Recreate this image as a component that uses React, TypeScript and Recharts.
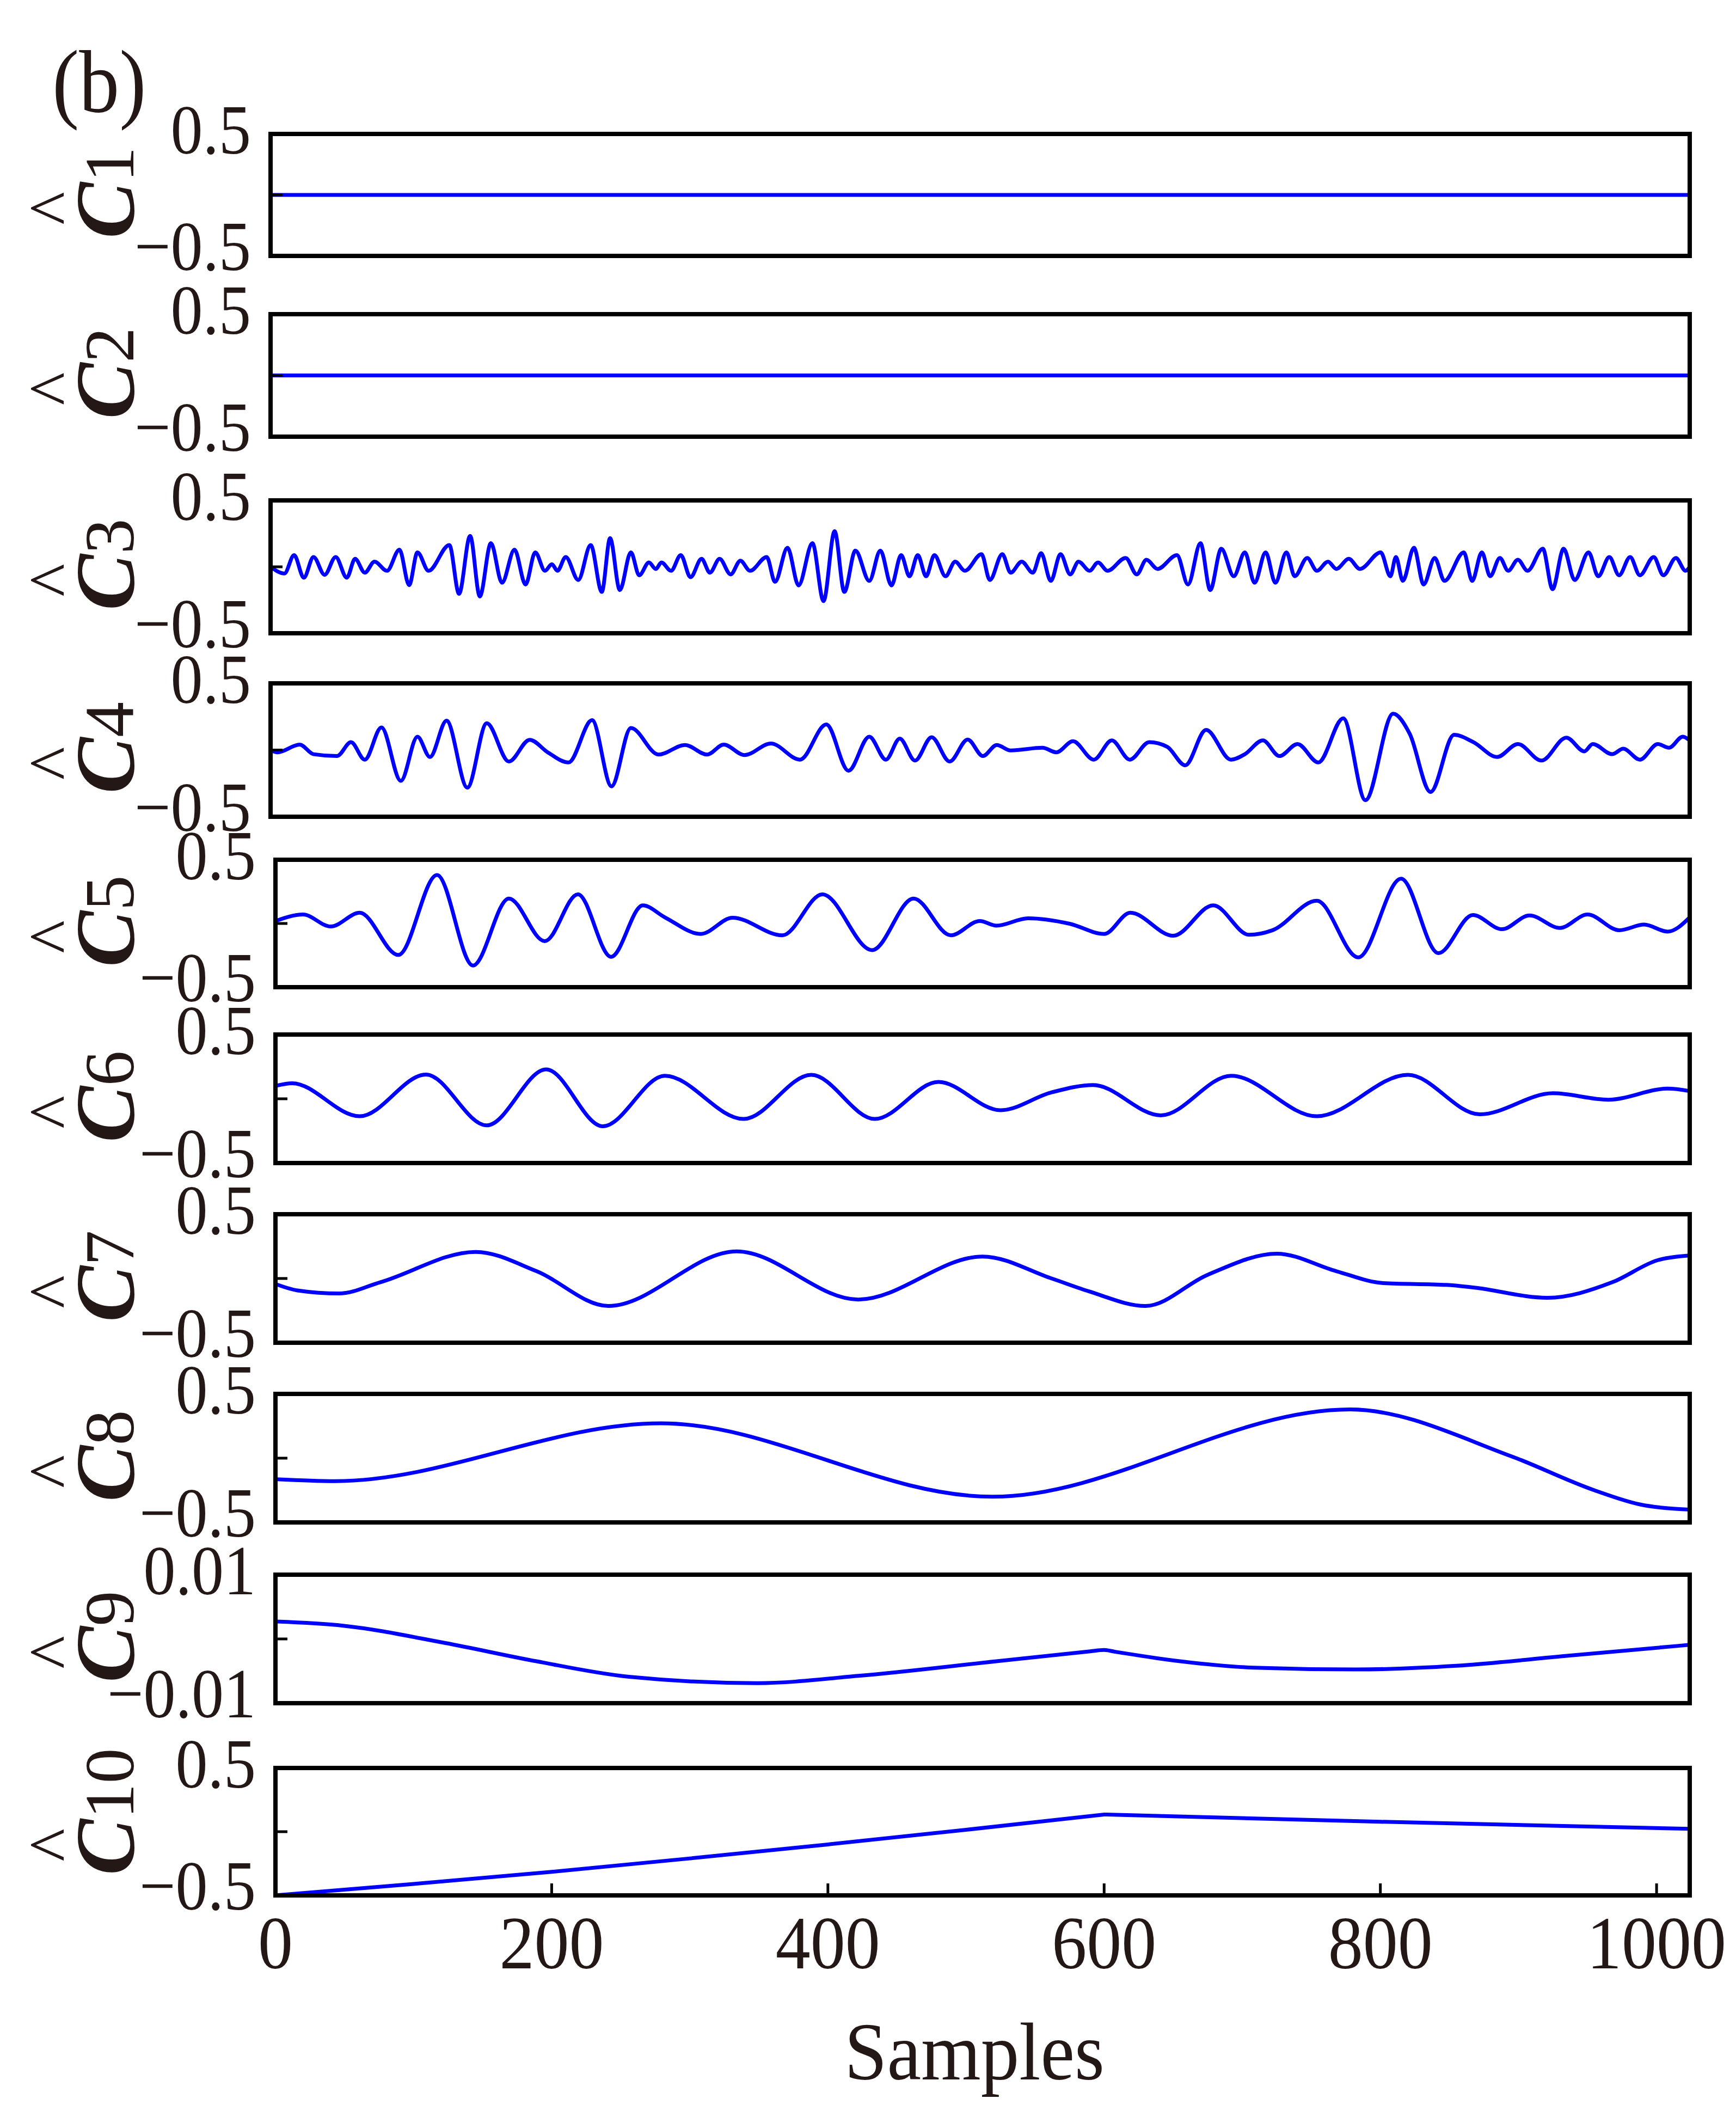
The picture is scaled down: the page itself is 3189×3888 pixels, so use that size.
import { LineChart, Line, XAxis, YAxis } from "recharts";

const W = 3189;
const H = 3888;
const INK = "#231815";
const BLUE = "#0000ff";
const SERIF = "'Liberation Serif', 'Times New Roman', Times, serif";

// samples axis
const xTicks = [0, 200, 400, 600, 800, 1000];
const xMax = 1024;

// component names and y ranges
const names = ["1", "2", "3", "4", "5", "6", "7", "8", "9", "10"];
const yLimits = [0.5, 0.5, 0.5, 0.5, 0.5, 0.5, 0.5, 0.5, 0.01, 0.5];

// traces: [sample, value]
const c1: [number, number][] = [[0, 0], [1024, 0]];
const c2: [number, number][] = [[0, 0], [1024, 0]];
const c3: [number, number][] = [
  [0, 0], [10, -0.05], [17, 0.088], [24, -0.082], [31, 0.074], [39, -0.06], [47, 0.074], [55, -0.082],
  [61, 0.06], [68, -0.044], [75, 0.039], [84, -0.03], [93, 0.129], [100, -0.138], [106, 0.109], [114, -0.03],
  [129, 0.164], [136, -0.203], [144, 0.233], [151, -0.223], [159, 0.178], [167, -0.12], [176, 0.129], [184, -0.133],
  [191, 0.109], [198, -0.03], [203, 0.019], [207, -0.03], [213, 0.074], [222, -0.099], [231, 0.164], [239, -0.189],
  [245, 0.216], [252, -0.175], [260, 0.109], [266, -0.064], [273, 0.033], [278, -0.016], [282, 0.033], [289, -0.03],
  [296, 0.088], [303, -0.078], [311, 0.06], [317, -0.044], [324, 0.06], [332, -0.057], [339, 0.046], [346, -0.03],
  [358, 0.074], [364, -0.113], [373, 0.143], [381, -0.14], [391, 0.178], [399, -0.258], [407, 0.268], [414, -0.189],
  [422, 0.122], [432, -0.106], [440, 0.122], [448, -0.14], [455, 0.088], [461, -0.071], [467, 0.088], [473, -0.071],
  [479, 0.088], [487, -0.071], [494, 0.039], [501, -0.03], [513, 0.095], [519, -0.099], [528, 0.095], [534, -0.044],
  [542, 0.039], [550, -0.044], [556, 0.102], [563, -0.106], [570, 0.095], [577, -0.057], [583, 0.039], [591, -0.03],
  [597, 0.033], [604, -0.03], [617, 0.067], [625, -0.057], [632, 0.053], [640, -0.016], [654, 0.088], [662, -0.133],
  [671, 0.178], [678, -0.175], [686, 0.136], [695, -0.071], [703, 0.109], [710, -0.12], [718, 0.109], [725, -0.12],
  [733, 0.109], [739, -0.071], [748, 0.067], [755, -0.03], [763, 0.039], [769, -0.016], [778, 0.06], [786, -0.016],
  [801, 0.109], [808, -0.071], [812, 0.074], [817, -0.106], [825, 0.143], [832, -0.133], [840, 0.067], [847, -0.106],
  [861, 0.109], [867, -0.106], [874, 0.109], [880, -0.071], [887, 0.067], [893, -0.03], [900, 0.053], [907, -0.03],
  [918, 0.136], [925, -0.168], [933, 0.136], [941, -0.099], [951, 0.109], [958, -0.071], [966, 0.074], [973, -0.064],
  [981, 0.074], [988, -0.064], [998, 0.074], [1005, -0.064], [1014, 0.067], [1021, -0.03], [1024, 0],
];
const c4: [number, number][] = [
  [0, 0], [5, -0.017], [21, 0.041], [31, -0.031], [48, -0.045], [58, 0.059], [68, -0.072], [80, 0.169],
  [94, -0.231], [106, 0.1], [115, -0.052], [127, 0.22], [142, -0.282], [156, 0.201], [172, -0.086], [187, 0.077],
  [200, -0.017], [215, -0.093], [232, 0.224], [246, -0.272], [260, 0.165], [280, -0.034], [299, 0.038], [315, -0.034],
  [327, 0.041], [342, -0.038], [361, 0.049], [382, -0.072], [401, 0.192], [417, -0.155], [432, 0.1], [444, -0.072],
  [454, 0.086], [465, -0.079], [477, 0.096], [490, -0.086], [503, 0.079], [514, -0.045], [524, 0.038], [534, -0.003],
  [557, 0.017], [567, -0.017], [579, 0.066], [594, -0.072], [607, 0.072], [620, -0.072], [634, 0.059], [647, 0.024],
  [660, -0.114], [675, 0.151], [693, -0.072], [703, -0.031], [716, 0.072], [728, -0.045], [741, 0.045], [756, -0.093],
  [774, 0.238], [790, -0.376], [810, 0.272], [822, 0.121], [837, -0.314], [854, 0.114], [868, 0.059], [885, -0.052],
  [900, 0.045], [917, -0.079], [935, 0.093], [948, -0.01], [954, 0.045], [968, -0.031], [976, 0.01], [988, -0.072],
  [1001, 0.045], [1009, 0.017], [1019, 0.1], [1024, 0.072],
];
const c5: [number, number][] = [
  [0, 0.019], [20, 0.07], [40, -0.024], [61, 0.084], [89, -0.247], [117, 0.38], [143, -0.33], [169, 0.196],
  [195, -0.139], [219, 0.229], [243, -0.262], [266, 0.142], [282, 0.048], [308, -0.082], [331, 0.045], [367, -0.093],
  [396, 0.229], [432, -0.209], [462, 0.196], [489, -0.093], [510, 0.019], [522, -0.017], [545, 0.041], [575, -0.002],
  [600, -0.082], [619, 0.084], [650, -0.096], [679, 0.142], [705, -0.089], [722, -0.053], [754, 0.178], [784, -0.266],
  [815, 0.351], [842, -0.233], [867, 0.066], [888, -0.045], [908, 0.063], [930, -0.035], [950, 0.07], [973, -0.053],
  [991, -0.009], [1008, -0.064], [1024, 0.048],
];
const c6: [number, number][] = [
  [0, 0.1], [12, 0.121], [61, -0.136], [109, 0.189], [153, -0.207], [196, 0.229], [237, -0.214], [282, 0.179],
  [339, -0.157], [388, 0.186], [434, -0.157], [480, 0.131], [525, -0.089], [562, 0.05], [592, 0.107], [641, -0.129],
  [692, 0.179], [754, -0.136], [820, 0.186], [872, -0.121], [925, 0.043], [965, -0.007], [1008, 0.079], [1024, 0.06],
];
const c7: [number, number][] = [
  [0, -0.043], [16, -0.093], [46, -0.117], [76, -0.029], [145, 0.207], [189, 0.057], [241, -0.214],
  [334, 0.211], [422, -0.164], [512, 0.171], [562, 0], [589, -0.1], [630, -0.214],
  [675, 0.029], [725, 0.193], [768, 0.057], [802, -0.036], [848, -0.05], [868, -0.071], [921, -0.15], [968, -0.029],
  [1001, 0.143], [1024, 0.179],
];
const c8: [number, number][] = [
  [0, -0.164], [43, -0.179], [279, 0.271], [519, -0.3], [778, 0.379], [895, 0.014],
  [955, -0.25], [988, -0.36], [1024, -0.4],
];
const c9: [number, number][] = [
  [0, 0.00271], [49, 0.00206], [123, -0.00064], [189, -0.00348], [256, -0.00589], [349, -0.00688], [422, -0.00575],
  [522, -0.00348], [590, -0.00193], [600, -0.00172], [608, -0.002], [655, -0.00348], [708, -0.00447], [782, -0.00475],
  [855, -0.00418], [935, -0.00262], [1024, -0.00092],
];
const c10: [number, number][] = [
  [0, -0.5], [100, -0.41], [200, -0.315], [300, -0.21], [400, -0.1], [500, 0.015], [600, 0.135],
  [800, 0.078], [1024, 0.022],
];

const traces = [c1, c2, c3, c4, c5, c6, c7, c8, c9, c10];
const curves: ("monotone" | "linear")[] = [
  "linear", "linear", "monotone", "monotone", "monotone", "monotone", "monotone", "monotone", "monotone", "linear",
];

// layout, page pixels
const plotTop = [246, 577, 919, 1255, 1579, 1900, 2230, 2560, 2892, 3247];
const plotBottom = [470, 802, 1163, 1500, 1813, 2136, 2466, 2796, 3128, 3481];
const plotLeft = [497, 497, 497, 497, 506, 506, 506, 506, 506, 506];
const PLOT_RIGHT = 3104;
const PAD = 130;
const LEFT_W = 40;
const BOTTOM_H = 40;

const fmt = (v: number) => (v < 0 ? "\u2212" + String(-v) : String(v));

const YTick = (props: any) => {
  const { x, y, payload } = props;
  const v = payload.value as number;
  if (v === 0) return <g />;
  const lift = v < 0 ? 18 : 8;
  return (
    <g transform={`translate(${x - 36},${y - lift}) scale(1,1.1)`}>
      <text x={0} y={0} dy="0.34em" textAnchor="end" fontSize={118} fontFamily={SERIF} fill={INK}>
        {fmt(v)}
      </text>
    </g>
  );
};

const XTick = (props: any) => {
  const { x, y, payload } = props;
  return (
    <g transform={`translate(${x},${y + 134}) scale(1,1.08)`}>
      <text x={0} y={0} textAnchor="middle" fontSize={128} fontFamily={SERIF} fill={INK}>
        {payload.value}
      </text>
    </g>
  );
};

const frame = { stroke: "#000", strokeWidth: 8, strokeLinecap: "square" as const };
const tickStyle = { stroke: "#000", strokeWidth: 5 };

function Strip({ i }: { i: number }) {
  const last = i === traces.length - 1;
  const top = plotTop[i];
  const bottom = plotBottom[i];
  const padBottom = last ? 220 : PAD;
  const h = bottom - top + PAD + padBottom;
  const lim = yLimits[i];
  const yTicks = [-lim, 0, lim];
  const rows = traces[i].map(([s, v]) => ({ s, v }));
  return (
    <div style={{ position: "absolute", left: 0, top: top - PAD }}>
      <LineChart
        width={W}
        height={h}
        data={rows}
        margin={{ top: PAD - 1, right: W - PLOT_RIGHT - 1, bottom: padBottom - BOTTOM_H, left: plotLeft[i] - LEFT_W }}
      >
        <XAxis
          xAxisId="b"
          dataKey="s"
          type="number"
          domain={[0, xMax]}
          ticks={xTicks}
          allowDataOverflow
          interval={0}
          height={BOTTOM_H}
          axisLine={frame}
          tickLine={tickStyle}
          tickSize={-22}
          tickMargin={22}
          tick={last ? XTick : false}
        />
        <XAxis
          xAxisId="t"
          orientation="top"
          dataKey="s"
          type="number"
          domain={[0, xMax]}
          ticks={xTicks}
          allowDataOverflow
          interval={0}
          height={1}
          axisLine={frame}
          tickLine={tickStyle}
          tickSize={-22}
          tick={false}
        />
        <YAxis
          yAxisId="l"
          type="number"
          domain={[-lim, lim]}
          ticks={yTicks}
          allowDataOverflow
          interval={0}
          width={LEFT_W}
          axisLine={frame}
          tickLine={tickStyle}
          tickSize={-22}
          tickMargin={22}
          tick={YTick}
        />
        <YAxis
          yAxisId="r"
          orientation="right"
          type="number"
          domain={[-lim, lim]}
          ticks={yTicks}
          allowDataOverflow
          interval={0}
          width={1}
          axisLine={frame}
          tickLine={tickStyle}
          tickSize={-22}
          tick={false}
        />
        <Line
          xAxisId="b"
          yAxisId="l"
          dataKey="v"
          type={curves[i]}
          stroke={BLUE}
          strokeWidth={7}
          dot={false}
          isAnimationActive={false}
        />
      </LineChart>
    </div>
  );
}

export default function App() {
  return (
    <div style={{ position: "absolute", left: 0, top: 0, width: W, height: H, background: "#fff" }}>
      {traces.map((_, i) => (
        <Strip key={i} i={i} />
      ))}
      <svg width={W} height={H} style={{ position: "absolute", left: 0, top: 0, pointerEvents: "none" }}>
        <g transform="translate(96,205) scale(1,1.1)">
          <text fontSize={148} fontFamily={SERIF} fill={INK}>(b)</text>
        </g>
        {names.map((n, i) => {
          const cy = (plotTop[i] + plotBottom[i]) / 2;
          return (
            <text key={n} transform={`translate(245,${cy + 80}) rotate(-90)`} fontFamily={SERIF} fill={INK}>
              <tspan x={25} y={-103} fontSize={130}>^</tspan>
              <tspan x={0} y={0} fontSize={155} fontStyle="italic" fontWeight="bold">C</tspan>
              <tspan fontSize={130}>{n}</tspan>
            </text>
          );
        })}
        <g transform="translate(1790,3819) scale(1,1.07)">
          <text textAnchor="middle" fontSize={141} fontFamily={SERIF} fill={INK}>Samples</text>
        </g>
      </svg>
    </div>
  );
}
